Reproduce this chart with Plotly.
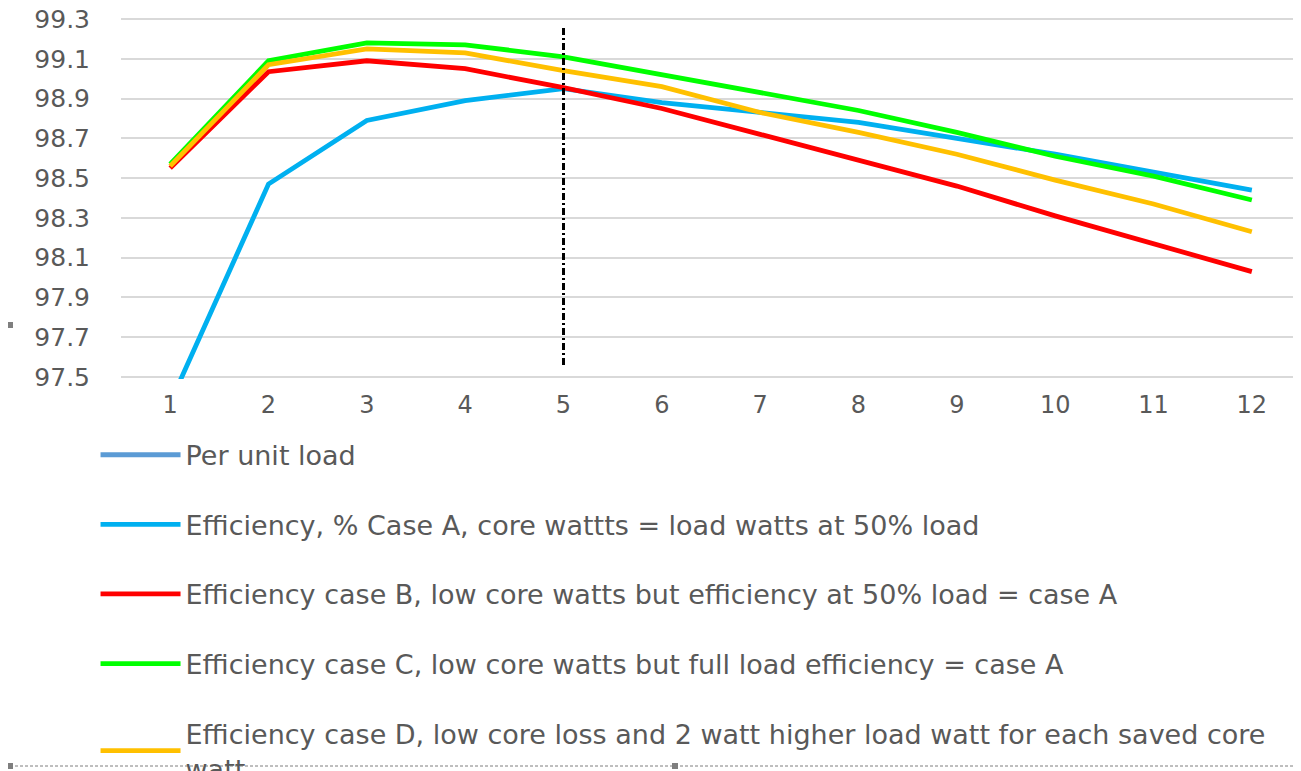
import plotly.graph_objects as go

# ---------------- data ----------------
load_points = [1, 2, 3, 4, 5, 6, 7, 8, 9, 10, 11, 12]
per_unit_load = [0.1, 0.2, 0.3, 0.4, 0.5, 0.6, 0.7, 0.8, 0.9, 1.0, 1.1, 1.2]
eff_case_a = [97.37, 98.47, 98.79, 98.89, 98.95, 98.88, 98.83, 98.78, 98.70, 98.62, 98.53, 98.44]
eff_case_b = [98.55, 99.035, 99.09, 99.05, 98.955, 98.85, 98.72, 98.59, 98.46, 98.31, 98.17, 98.03]
eff_case_c = [98.57, 99.09, 99.18, 99.17, 99.11, 99.02, 98.93, 98.84, 98.73, 98.61, 98.51, 98.39]
eff_case_d = [98.56, 99.07, 99.15, 99.13, 99.04, 98.96, 98.83, 98.73, 98.62, 98.49, 98.37, 98.23]

series_names = [
    "Per unit load",
    "Efficiency, % Case A, core wattts = load watts at 50% load",
    "Efficiency case B, low core watts but efficiency at 50% load = case A",
    "Efficiency case C, low core watts but full load efficiency = case A",
    "Efficiency case D, low core loss and 2 watt higher load watt for each saved core<br>watt",
]
series_values = [per_unit_load, eff_case_a, eff_case_b, eff_case_c, eff_case_d]
series_colors = ["#5B9BD5", "#00B0F0", "#FF0000", "#00FF00", "#FFC000"]

y_ticks = [97.5, 97.7, 97.9, 98.1, 98.3, 98.5, 98.7, 98.9, 99.1, 99.3]
marker_line_x = 5
marker_line_y = [97.56, 99.26]

FONT = "DejaVu Sans"
GREY = "#595959"

# plot area (page pixels): x 121..1301, y 17..379  (range 97.49..99.31)
fig = go.Figure()
for i, (name, vals, col) in enumerate(zip(series_names, series_values, series_colors)):
    fig.add_trace(go.Scatter(
        x=load_points, y=vals, name=name, mode="lines",
        line=dict(color=col, width=4.8),
        legendgroup=f"g{i}",
    ))

fig.add_shape(type="line", xref="x", yref="y",
              x0=marker_line_x, x1=marker_line_x,
              y0=marker_line_y[0], y1=marker_line_y[1],
              line=dict(color="#000000", width=3, dash="7px,3px,2px,3px"))

# bottom dashed selection border (screenshot artefact)
PT, PH = 17, 362  # plot top & height in page px


def py(v):
    return (PT + PH - v) / PH


fig.add_shape(type="line", xref="paper", yref="paper",
              x0=(10 - 121) / 1180, x1=1.0, y0=py(766), y1=py(766),
              line=dict(color="#7F7F7F", width=1, dash="3px,2px"))
for sx, sy in [(10, 325), (10, 766), (675, 766)]:
    fig.add_shape(type="rect", xref="paper", yref="paper",
                  x0=(sx - 3 - 121) / 1180, x1=(sx + 3 - 121) / 1180,
                  y0=py(sy + 3), y1=py(sy - 3),
                  fillcolor="#7F7F7F", line=dict(width=0))

fig.update_layout(
    width=1293, height=763,
    margin=dict(l=113, r=0, t=9, b=392, autoexpand=False),
    paper_bgcolor="white", plot_bgcolor="white",
    font=dict(family=FONT, size=27, color=GREY),
    showlegend=True,
    legend=dict(
        orientation="v",
        xref="container", yref="container",
        x=0.0677, y=0.446, xanchor="left", yanchor="top",
        font=dict(family=FONT, size=27, color=GREY),
        tracegroupgap=31.5,
        itemwidth=80,
        bgcolor="rgba(0,0,0,0)",
    ),
    xaxis=dict(
        type="linear", range=[0.5, 12.5],
        tickmode="array", tickvals=load_points,
        ticktext=[str(v) for v in load_points],
        showgrid=False, zeroline=False, showline=False,
        ticks="outside", ticklen=4, tickcolor="rgba(0,0,0,0)",
        tickfont=dict(family=FONT, size=24, color=GREY),
    ),
    yaxis=dict(
        range=[97.49, 99.31],
        tickmode="array", tickvals=y_ticks,
        ticktext=[f"{v:.1f}" for v in y_ticks],
        ticklabeloverflow="allow",
        showgrid=True, gridcolor="#D9D9D9", gridwidth=1.5,
        zeroline=False, showline=False,
        ticks="outside", ticklen=25, tickcolor="rgba(0,0,0,0)",
        tickfont=dict(family=FONT, size=25, color=GREY),
    ),
)

fig.write_html("out.html")
